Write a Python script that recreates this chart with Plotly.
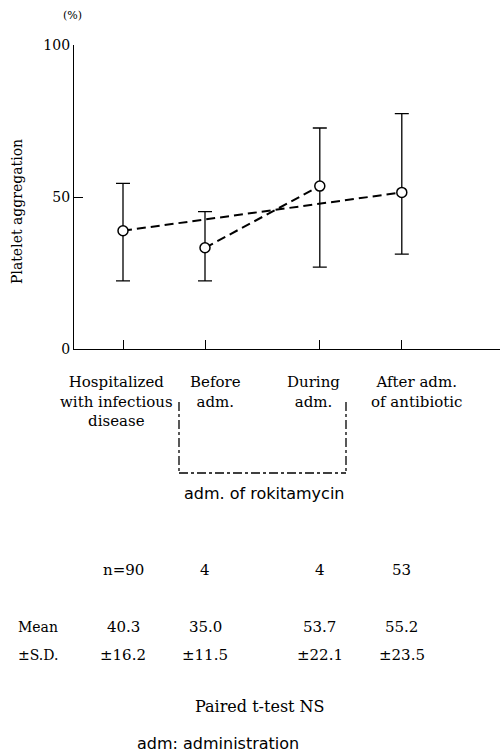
import plotly.graph_objects as go

# ---- data ----
categories = ["Hospitalized<br>with infectious<br>disease", "Before<br>adm.", "During<br>adm.", "After adm.<br>of antibiotic"]
mean_plot = [38.9, 33.3, 53.6, 51.5]
upper_plot = [54.5, 45.2, 72.7, 77.4]
lower_plot = [22.4, 22.4, 26.9, 31.2]
n_labels = ["n=90", "4", "4", "53"]
mean_labels = ["40.3", "35.0", "53.7", "55.2"]
sd_labels = ["\u00b116.2", "\u00b111.5", "\u00b122.1", "\u00b123.5"]
y_ticks = [0, 50, 100]

# ---- layout constants ----
pos = [1, 2, 3.4, 4.4]           # horizontal placement of groups
W, H = 500, 755
L, R, T, B = 74, 500, 45, 349    # plot area in pixels
X0, XU = 123, 82                 # pixel of pos 1, pixels per unit
xmin = 1 - (X0 - L) / XU
xmax = 1 + (R - X0) / XU

def py(pyx):
    return (B - pyx) / (B - T)

def pxp(px):
    return (px - L) / (R - L)

SERIF = "DejaVu Serif"
SANS = "DejaVu Sans"
BLACK = "black"

fig = go.Figure()

# dashed connecting lines
fig.add_trace(go.Scatter(x=[pos[0], pos[3]], y=[mean_plot[0], mean_plot[3]], mode="lines",
                         line=dict(color=BLACK, width=2, dash="9px,5px"), hoverinfo="skip"))
fig.add_trace(go.Scatter(x=[pos[1], pos[2]], y=[mean_plot[1], mean_plot[2]], mode="lines",
                         line=dict(color=BLACK, width=2, dash="9px,5px"), hoverinfo="skip"))

# means with error bars
fig.add_trace(go.Scatter(
    x=pos, y=mean_plot, mode="markers",
    marker=dict(symbol="circle", size=10, color="white", line=dict(color=BLACK, width=1.5)),
    error_y=dict(type="data", symmetric=False,
                 array=[u - m for u, m in zip(upper_plot, mean_plot)],
                 arrayminus=[m - l for m, l in zip(mean_plot, lower_plot)],
                 color=BLACK, thickness=1.3, width=7),
    hoverinfo="skip",
))

def ann(xp, yp, text, family=SERIF, size=14, xanchor="center", yanchor="middle", **kw):
    return dict(x=pxp(xp), xref="paper", y=py(yp), yref="paper", text=text, showarrow=False,
                xanchor=xanchor, yanchor=yanchor, font=dict(family=family, size=size, color=BLACK), **kw)

annotations = []
# category labels
label_centers = [116, 215, 313, 416]
for c, txt in zip(label_centers, categories):
    annotations.append(ann(c, 371, txt, size=15, yanchor="top", align="center"))

annotations.append(ann(264, 493, "adm. of rokitamycin", family=SANS, size=16))

# table rows (columns aligned with the groups)
def cell(p, yp, t):
    return dict(x=p, xref="x", y=py(yp), yref="paper", text=t, showarrow=False,
                xanchor="center", yanchor="middle", font=dict(family=SERIF, size=15, color=BLACK))

for p, t in zip(pos, n_labels):
    annotations.append(cell(p, 570, t))
for p, t in zip(pos, mean_labels):
    annotations.append(cell(p, 627, t))
for p, t in zip(pos, sd_labels):
    annotations.append(cell(p, 655, t))
annotations.append(ann(16, 627, "Mean", xanchor="left"))
annotations.append(ann(16, 655, "\u00b1S.D.", xanchor="left"))

annotations.append(ann(260, 707, "Paired t-test NS", size=16))
annotations.append(ann(218, 743, "adm: administration", family=SANS, size=16))

# axis title and unit
annotations.append(ann(17, 212, "Platelet aggregation", textangle=-90))
annotations.append(ann(72, 15, "(%)", size=11))

# bracket
bl = dict(color=BLACK, width=1.3, dash="dashdot")
shapes = [
    dict(type="line", xref="paper", yref="paper", x0=pxp(179), x1=pxp(179), y0=py(402), y1=py(473), line=bl),
    dict(type="line", xref="paper", yref="paper", x0=pxp(346), x1=pxp(346), y0=py(402), y1=py(473), line=bl),
    dict(type="line", xref="paper", yref="paper", x0=pxp(179), x1=pxp(346), y0=py(473), y1=py(473), line=bl),
]

fig.update_layout(
    width=W, height=H,
    margin=dict(l=L, r=W - R, t=T, b=H - B, pad=0),
    paper_bgcolor="white", plot_bgcolor="white",
    showlegend=False, hovermode=False,
    annotations=annotations, shapes=shapes,
    xaxis=dict(range=[xmin, xmax], showgrid=False, zeroline=False, showline=True,
               linecolor=BLACK, linewidth=1.2, ticks="inside", ticklen=9, tickwidth=1.3,
               tickcolor=BLACK, tickvals=pos, showticklabels=False, fixedrange=True),
    yaxis=dict(range=[0, 100], showgrid=False, zeroline=False, showline=True,
               linecolor=BLACK, linewidth=1.3, ticks="inside", ticklen=9, tickwidth=1.3,
               tickcolor=BLACK, tickvals=y_ticks, ticktext=[str(v) for v in y_ticks],
               tickfont=dict(family=SERIF, size=14, color=BLACK), fixedrange=True),
)

fig.write_html("out.html", config={"displayModeBar": False},
               post_script="document.body.style.margin='0px';document.body.style.padding='0px';document.body.style.overflow='hidden';")
